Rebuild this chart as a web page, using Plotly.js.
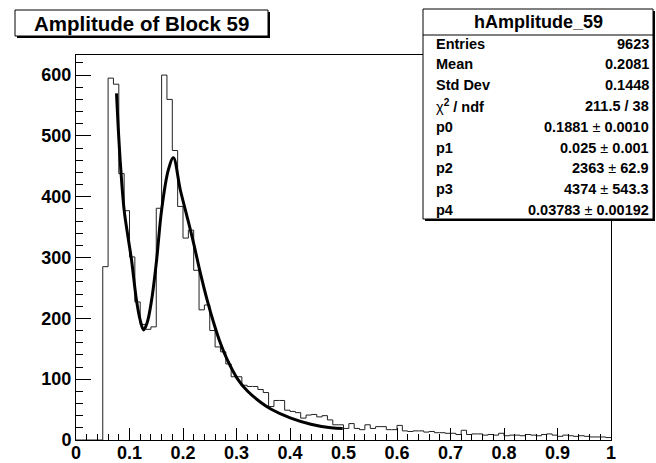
<!DOCTYPE html>
<html><head><meta charset="utf-8">
<script src="https://cdn.plot.ly/plotly-3.0.1.min.js"></script>
<style>html,body{margin:0;padding:0;background:#fff;} #chart{width:656px;height:463px;}</style>
</head><body><div id="chart"></div>
<script>
// ---- data ----
const xMin = 0, xMax = 1, nBins = 100;
const counts = [0,0,0,0,0,285,595,585,438,377,
  301,227,190,182,186,381,600,560,476,384,
  332,345,279,214,222,180,153,145,125,104,
  104,90,88,88,83,78,55,65,65,49,
  47,45,36,41,42,38,40,33,25,25,
  19,27,19,17,25,19,22,22,17,17,
  24,15,14,15,15,13,14,12,12,11,
  11,9,16,9,10,10,8,9,8,11,
  7,8,8,7,9,8,7,9,10,8,
  6,8,7,6,7,6,5,5,5,4];
const fitX = [0.0757,0.0790,0.0838,0.0900,0.0970,0.1038,0.1130,0.1200,0.1263,0.1330,0.1413,0.1507,0.1600,0.1726,0.1820,0.1950,0.2077,0.2200,0.2326,0.2452,0.2576,0.2700,0.2827,0.3015,0.3200,0.3450,0.3640,0.4015,0.4390,0.4765,0.4985];
const fitY = [570,512,444,378,335,296,230,197,181,193,230,296,378,444,464,411,367,323,274,230,192,159,132,101,81,62,51,36,26,20,19];
const titleText = 'Amplitude of Block 59';
const statsTitle = 'hAmplitude_59';
const statLabels = ['Entries','Mean','Std Dev','<span style="font-weight:normal">χ</span><sup>2</sup> / ndf','p0','p1','p2','p3','p4'];
const statValues = ['9623','0.2081','0.1448','211.5 / 38','0.1881 ± 0.0010','0.025 ± 0.001','2363 ± 62.9','4374 ± 543.3','0.03783 ± 0.00192'];

// ---- build ----
const edges = [];
for (let i = 0; i <= nBins; i++) edges.push(xMin + i * (xMax - xMin) / nBins);
const histY = counts.concat([counts[counts.length - 1]]);

const L = 76, R = 611, T = 55, B = 440;
const px = x => (x - L) / (R - L);
const py = y => (B - y) / (B - T);

const FONT = 'Liberation Sans, Arial, sans-serif';

const traces = [
  {x: edges, y: histY, type: 'scatter', mode: 'lines', line: {shape: 'hv', color: '#222', width: 1}, hoverinfo: 'skip'},
  {x: fitX, y: fitY, type: 'scatter', mode: 'lines', line: {shape: 'spline', smoothing: 1, color: '#000', width: 3}, hoverinfo: 'skip'}
];

const shapes = [];
function box(x0, y0, x1, y1, fill, lc, lw) {
  shapes.push({type: 'rect', xref: 'paper', yref: 'paper', layer: 'above',
    x0: px(x0), x1: px(x1), y0: py(y1), y1: py(y0),
    fillcolor: fill, line: {color: lc, width: lw}});
}
// title box with shadow
box(17, 12, 270, 38, '#000', '#000', 0);
box(15, 10, 268, 36, '#fff', '#000', 1);
// stats box with shadow
box(425, 11, 655, 221, '#000', '#000', 0);
box(423, 9, 653, 219, '#fff', '#000', 1);
shapes.push({type: 'line', xref: 'paper', yref: 'paper', layer: 'above',
  x0: px(423), x1: px(653), y0: py(35), y1: py(35), line: {color: '#000', width: 1}});

const annotations = [];
annotations.push({xref: 'paper', yref: 'paper', x: px(141.5), y: py(23.5), text: '<b>' + titleText + '</b>',
  showarrow: false, xanchor: 'center', yanchor: 'middle', font: {family: FONT, size: 20.5, color: '#000'}});
annotations.push({xref: 'paper', yref: 'paper', x: px(538), y: py(22), text: '<b>' + statsTitle + '</b>',
  showarrow: false, xanchor: 'center', yanchor: 'middle', font: {family: FONT, size: 18, color: '#000'}});
statLabels.forEach((lab, i) => {
  const yc = 43.5 + i * 20.8;
  annotations.push({xref: 'paper', yref: 'paper', x: px(434), y: py(yc), text: '<b>' + lab + '</b>',
    showarrow: false, xanchor: 'left', yanchor: 'middle', font: {family: FONT, size: 14.5, color: '#000'}});
  const v = statValues[i].replace('±', '<span style="font-weight:normal">±</span>');
  annotations.push({xref: 'paper', yref: 'paper', x: px(651), y: py(yc), text: '<b>' + v + '</b>',
    showarrow: false, xanchor: 'right', yanchor: 'middle', font: {family: FONT, size: 14.5, color: '#000'}});
});

const tickfont = {family: FONT, size: 18, color: '#000', weight: 'bold'};
const layout = {
  width: 656, height: 463,
  margin: {l: L, r: 656 - R, t: T, b: 463 - B, pad: 0, autoexpand: false},
  paper_bgcolor: '#fff', plot_bgcolor: '#fff', showlegend: false,
  xaxis: {range: [xMin, xMax], tick0: 0, dtick: 0.1, ticks: 'inside', ticklen: 12, tickwidth: 1, tickcolor: '#000',
    showline: true, linecolor: '#000', linewidth: 1, mirror: true, showgrid: false, zeroline: false,
    tickfont: tickfont, automargin: false, fixedrange: true, ticklabelstandoff: -4,
    minor: {dtick: 0.02, ticks: 'inside', ticklen: 6, tickwidth: 1, tickcolor: '#000', showgrid: false}},
  yaxis: {range: [0, 633], tick0: 0, dtick: 100, ticks: 'inside', ticklen: 15, tickwidth: 1, tickcolor: '#000',
    showline: true, linecolor: '#000', linewidth: 1, mirror: true, showgrid: false, zeroline: false,
    tickfont: tickfont, automargin: false, fixedrange: true,
    minor: {dtick: 20, ticks: 'inside', ticklen: 7, tickwidth: 1, tickcolor: '#000', showgrid: false}},
  shapes: shapes,
  annotations: annotations
};
Plotly.newPlot('chart', traces, layout, {staticPlot: true, displayModeBar: false});
</script>
</body></html>
